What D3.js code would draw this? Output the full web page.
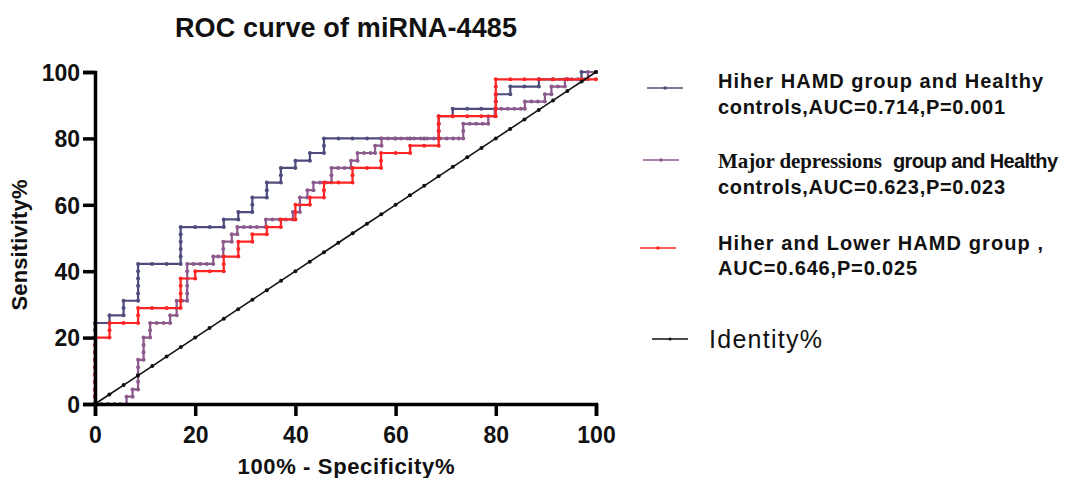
<!DOCTYPE html>
<html>
<head>
<meta charset="utf-8">
<script src="https://cdn.jsdelivr.net/npm/d3@7"></script>
<style>
  body { margin: 0; background: #fff; }
  text { font-family: "Liberation Sans", Arial, sans-serif; }
</style>
</head>
<body>
<div id="chart"></div>
<script>
// ROC points [100% - specificity, sensitivity]
const hiherHealthy = [
  [0,0],[0,2.2],[0,4.4],[0,6.7],[0,8.9],[0,11.1],[0,13.3],[0,15.6],[0,17.8],[0,20],[0,22.2],[0,24.4],
  [2.9,24.4],[2.9,26.7],[5.7,26.7],[5.7,28.9],[5.7,31.1],[8.6,31.1],
  [8.6,33.3],[8.6,35.6],[8.6,37.8],[8.6,40],[8.6,42.2],
  [11.4,42.2],[14.3,42.2],[17.1,42.2],
  [17.1,44.4],[17.1,46.7],[17.1,48.9],[17.1,51.1],[17.1,53.3],
  [20,53.3],[22.9,53.3],[25.7,53.3],[25.7,55.6],[28.6,55.6],[28.6,57.8],[31.4,57.8],
  [31.4,60],[31.4,62.2],[34.3,62.2],[34.3,64.4],[34.3,66.7],[37.1,66.7],[37.1,68.9],[37.1,71.1],
  [40,71.1],[40,73.3],[42.9,73.3],[42.9,75.6],[45.7,75.6],[45.7,77.8],[45.7,80],
  [48.6,80],[51.4,80],[54.3,80],[57.1,80],[60,80],[62.9,80],[65.7,80],[68.6,80],
  [68.6,82.2],[68.6,84.4],[68.6,86.7],[71.4,86.7],[71.4,88.9],
  [74.3,88.9],[77.1,88.9],[80,88.9],[80,91.1],[80,93.3],[82.9,93.3],[82.9,95.6],
  [85.7,95.6],[88.6,95.6],[88.6,97.8],[91.4,97.8],[94.3,97.8],[97.1,97.8],[97.1,100],[100,100]
];
const majorHealthy = [
  [0,0],[1.3,0],[2.6,0],[3.9,0],[5.1,0],[6.3,0],[6.3,2.2],[7.5,2.2],[7.5,4.4],[8.6,4.4],
  [8.6,6.7],[8.6,8.9],[8.6,11.1],[8.6,13.3],[9.7,13.3],[9.7,15.6],[9.7,17.8],[9.7,20],
  [11,20],[11,22.2],[11,24.4],[12.3,24.4],[13.7,24.4],[15,24.4],[15,26.7],[16.3,26.7],
  [16.3,28.9],[16.3,31.1],[17.4,31.1],[18.4,31.1],
  [18.4,33.3],[18.4,35.6],[18.4,37.8],[18.4,40],[18.4,42.2],
  [19.7,42.2],[21,42.2],[22.3,42.2],[23.6,42.2],[23.6,44.4],[24.6,44.4],[25.6,44.4],
  [25.6,46.7],[25.6,48.9],[27.3,48.9],[27.3,51.1],[28.4,51.1],[28.4,53.3],
  [29.7,53.3],[31,53.3],[32.3,53.3],[34.1,53.3],[34.1,55.6],
  [35.4,55.6],[36.8,55.6],[38.1,55.6],[39.5,55.6],[39.5,57.8],[40.9,57.8],[40.9,60],[40.9,62.2],
  [42.4,62.2],[42.4,64.4],[43.6,64.4],[43.6,66.7],[44.9,66.7],[46.1,66.7],[47.2,66.7],
  [47.2,68.9],[47.2,71.1],[48.5,71.1],[49.8,71.1],[51.1,71.1],[51.1,73.3],[52.4,73.3],
  [52.4,75.6],[53.7,75.6],[55,75.6],[55.9,75.6],[55.9,77.8],[57.2,77.8],[57.2,80],
  [58.5,80],[59.8,80],[61.1,80],[62.4,80],[63.7,80],[65,80],[66.3,80],[67.6,80],
  [68.9,80],[70.2,80],[71.5,80],[72.6,80],[73.5,80],[73.5,82.2],[73.5,84.4],
  [74.8,84.4],[76.1,84.4],[77.4,84.4],[78.5,84.4],[78.5,86.7],[79.8,86.7],[79.8,88.9],
  [81.1,88.9],[82.4,88.9],[83.7,88.9],[85,88.9],[85.8,88.9],[85.8,91.1],
  [87.1,91.1],[88.4,91.1],[89.8,91.1],[89.8,93.3],[91.1,93.3],[91.1,95.6],[92.4,95.6],[93.8,95.6],
  [93.8,97.8],[95.1,97.8],[96.4,97.8],[97.7,97.8],[98.4,97.8],[98.4,100],[100,100]
];
const hiherLower = [
  [0,0],[0,2.2],[0,4.4],[0,6.7],[0,8.9],[0,11.1],[0,13.3],[0,15.6],[0,17.8],[0,20],
  [2.9,20],[2.9,22.2],[2.9,24.4],[5.7,24.4],[8.6,24.4],[8.6,26.7],[8.6,28.9],
  [11.4,28.9],[14.3,28.9],[17.1,28.9],[17.1,31.1],[17.1,33.3],[17.1,35.6],[17.1,37.8],
  [20,37.8],[20,40],[22.9,40],[25.7,40],[25.7,42.2],[25.7,44.4],[28.6,44.4],[28.6,46.7],[28.6,48.9],
  [31.4,48.9],[31.4,51.1],[34.3,51.1],[34.3,53.3],[37.1,53.3],[37.1,55.6],[40,55.6],
  [40,57.8],[40,60],[42.9,60],[42.9,62.2],[45.7,62.2],[45.7,64.4],[45.7,66.7],
  [48.6,66.7],[51.4,66.7],[51.4,68.9],[51.4,71.1],[54.3,71.1],[57.1,71.1],[57.1,73.3],[57.1,75.6],
  [60,75.6],[62.9,75.6],[62.9,77.8],[65.7,77.8],[68.6,77.8],
  [68.6,80],[68.6,82.2],[68.6,84.4],[68.6,86.7],[71.4,86.7],[74.3,86.7],[77.1,86.7],[80,86.7],
  [80,88.9],[80,91.1],[80,93.3],[80,95.6],[80,97.8],
  [82.9,97.8],[85.7,97.8],[88.6,97.8],[91.4,97.8],[94.3,97.8],[97.1,97.8],[100,97.8]
];
const identityVals = [0,2.86,5.71,8.57,11.43,14.29,17.14,20,22.86,25.71,28.57,31.43,34.29,37.14,
  40,42.86,45.71,48.57,51.43,54.29,57.14,60,62.86,65.71,68.57,71.43,74.29,77.14,80,82.86,
  85.71,88.57,91.43,94.29,97.14,100];
const ticks = [0, 20, 40, 60, 80, 100];

const W = 1089, H = 478;
const svg = d3.select("#chart").append("svg").attr("width", W).attr("height", H);

const x = d3.scaleLinear().domain([0, 100]).range([95, 596]);
const y = d3.scaleLinear().domain([0, 100]).range([404, 72]);

const series = [
  { name: "blue", pts: hiherHealthy, color: "#4d4c7d", w: 2.2 },
  { name: "purple", pts: majorHealthy, color: "#8c5a8c", w: 2.2 },
  { name: "red", pts: hiherLower, color: "#ff2424", w: 2.2 },
  { name: "black", pts: identityVals.map(v => [v, v]), color: "#111", w: 1.6 }
];

const line = d3.line().x(d => x(d[0])).y(d => y(d[1]));

series.forEach(s => {
  const g = svg.append("g");
  g.append("path").datum(s.pts)
    .attr("fill", "none").attr("stroke", s.color).attr("stroke-width", s.w)
    .attr("d", line);
  g.selectAll("circle").data(s.pts).enter().append("circle")
    .attr("cx", d => x(d[0])).attr("cy", d => y(d[1]))
    .attr("r", 2).attr("fill", s.color);
});

// axes
const xAxis = svg.append("g").attr("transform", "translate(0,404)")
  .call(d3.axisBottom(x).tickValues(ticks).tickSize(12).tickPadding(11));
const yAxis = svg.append("g").attr("transform", "translate(95,0)")
  .call(d3.axisLeft(y).tickValues(ticks).tickSize(12).tickPadding(3));
[xAxis, yAxis].forEach(a => {
  a.select(".domain").attr("stroke", "#000").attr("stroke-width", 3.5);
  a.selectAll(".tick line").attr("stroke", "#000").attr("stroke-width", 3.5);
  a.selectAll(".tick text").attr("fill", "#111")
    .style("font-family", "Liberation Sans, Arial, sans-serif")
    .style("font-size", "23px").style("font-weight", "bold");
});
yAxis.selectAll(".tick text").attr("dy", "0.36em");

// titles
svg.append("text").attr("x", 346).attr("y", 37).attr("text-anchor", "middle")
  .attr("textLength", 342).attr("lengthAdjust", "spacing")
  .style("font-size", "27px").style("font-weight", "bold").attr("fill", "#111")
  .text("ROC curve of miRNA-4485");
svg.append("text").attr("x", 346).attr("y", 474).attr("text-anchor", "middle")
  .attr("textLength", 217).attr("lengthAdjust", "spacing")
  .style("font-size", "22px").style("font-weight", "bold").attr("fill", "#111")
  .text("100% - Specificity%");
svg.append("text").attr("transform", "translate(27,245)rotate(-90)").attr("text-anchor", "middle")
  .attr("textLength", 131).attr("lengthAdjust", "spacing")
  .style("font-size", "22px").style("font-weight", "bold").attr("fill", "#111")
  .text("Sensitivity%");

// legend
const legendItems = [
  { color: "#4d4c7d", x1: 647, x2: 683, ly: 88, ty: [88, 114],
    lines: [[{ t: "Hiher HAMD group and Healthy", len: 325 }], [{ t: "controls,AUC=0.714,P=0.001", len: 287 }]] },
  { color: "#8c5a8c", x1: 643, x2: 679, ly: 160, ty: [168, 194],
    lines: [[{ t: "Major depressions", len: 164, serif: true }, { t: "group and Healthy", len: 165, dx: 893 }],
            [{ t: "controls,AUC=0.623,P=0.023", len: 287 }]] },
  { color: "#ff2424", x1: 640, x2: 676, ly: 248, ty: [250, 275],
    lines: [[{ t: "Hiher and Lower HAMD group ,", len: 325 }], [{ t: "AUC=0.646,P=0.025", len: 199 }]] }
];

legendItems.forEach(it => {
  svg.append("line").attr("x1", it.x1).attr("x2", it.x2).attr("y1", it.ly).attr("y2", it.ly)
    .attr("stroke", it.color).attr("stroke-width", 1.6);
  svg.append("circle").attr("cx", (it.x1 + it.x2) / 2).attr("cy", it.ly).attr("r", 1.8).attr("fill", it.color);
  it.lines.forEach((parts, i) => {
    parts.forEach(p => {
      const t = svg.append("text").attr("x", p.dx || 718).attr("y", it.ty[i]).attr("fill", "#111")
        .attr("textLength", p.len).attr("lengthAdjust", "spacing")
        .style("font-size", "20px").style("font-weight", "bold").text(p.t);
      if (p.serif) t.style("font-family", "Liberation Serif, Times New Roman, serif").style("font-size", "21px");
    });
  });
});

svg.append("line").attr("x1", 652).attr("x2", 688).attr("y1", 339).attr("y2", 339)
  .attr("stroke", "#111").attr("stroke-width", 1.6);
svg.append("circle").attr("cx", 670).attr("cy", 339).attr("r", 1.6).attr("fill", "#111");
svg.append("text").attr("x", 709).attr("y", 348).attr("fill", "#111")
  .attr("textLength", 113).attr("lengthAdjust", "spacing")
  .style("font-size", "25px").text("Identity%");
</script>
</body>
</html>
